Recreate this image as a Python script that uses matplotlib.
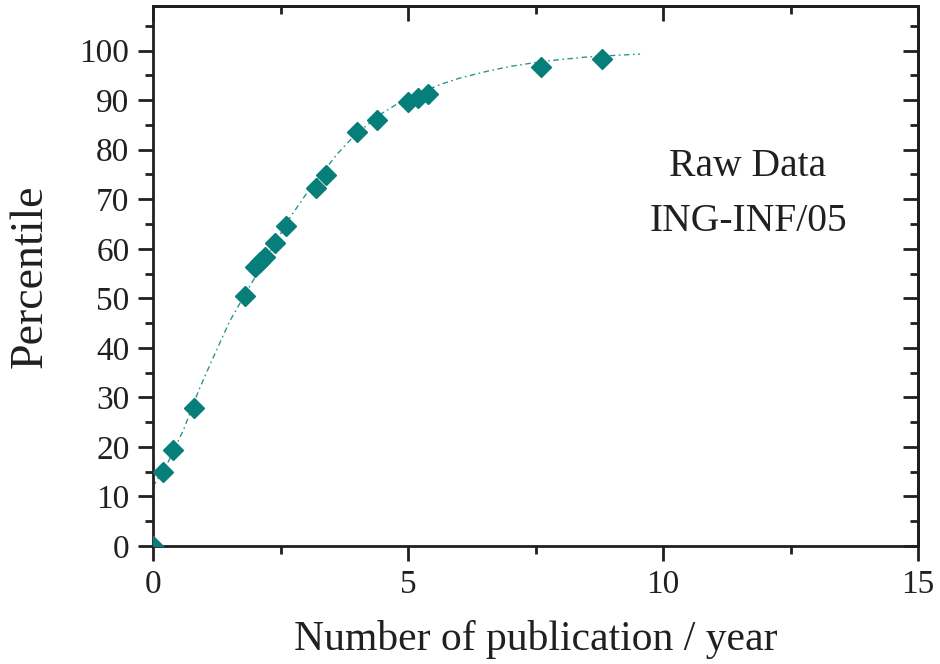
import matplotlib
matplotlib.use("Agg")
import matplotlib.pyplot as plt
from matplotlib.ticker import MultipleLocator

# Data
pub_per_year = [0.0, 0.2, 0.4, 0.8, 1.8, 2.0, 2.1, 2.2, 2.4, 2.6, 3.2, 3.4,
                4.0, 4.4, 5.0, 5.2, 5.4, 7.6, 8.8]
percentile = [0.0, 14.9, 19.3, 27.9, 50.4, 56.3, 57.3, 58.3, 61.1, 64.5, 72.2, 74.8,
              83.6, 86.0, 89.7, 90.4, 91.2, 96.6, 98.4]

# Fitted curve
fit_x = [0.0, 0.3, 0.6, 0.9, 1.2, 1.5, 1.8, 2.1, 2.4, 2.7, 3.0, 3.3, 3.6, 3.9,
         4.2, 4.5, 4.8, 5.1, 5.4, 5.7, 6.0, 6.5, 7.0, 7.5, 8.0, 8.5, 9.0, 9.55]
fit_y = [12.0, 17.0, 23.5, 31.5, 38.5, 45.3, 50.7, 56.0, 61.2, 66.5, 71.0, 75.0,
         79.0, 82.3, 85.0, 87.4, 89.3, 90.9, 92.2, 93.4, 94.4, 95.7, 96.8, 97.6,
         98.2, 98.7, 99.0, 99.3]

x_ticks = [0, 5, 10, 15]
y_ticks = [0, 10, 20, 30, 40, 50, 60, 70, 80, 90, 100]

plt.rcParams['font.family'] = ['Liberation Serif', 'DejaVu Serif']

TEAL = '#067f7a'
INK = '#231f20'

fig = plt.figure(figsize=(9.4, 6.64), dpi=100)
ax = fig.add_axes([153/940, 1-546/664, (918-153)/940, (546-6)/664])

ax.plot(fit_x, fit_y, color='#2a9590', lw=1.0, dashes=(4, 2.5, 1.2, 2.5), zorder=2)
ax.plot(pub_per_year, percentile, linestyle='none', marker='D', markersize=10.5,
        color=TEAL, markeredgecolor=TEAL, zorder=3)

ax.set_xlim(0, 15)
ax.set_ylim(0, 109)
ax.set_xticks(x_ticks)
ax.set_yticks(y_ticks)
ax.xaxis.set_minor_locator(MultipleLocator(2.5))
ax.yaxis.set_minor_locator(MultipleLocator(5))

for s in ax.spines.values():
    s.set_linewidth(2.0)
    s.set_color(INK)

ax.tick_params(which='major', direction='out', length=11, width=2.0, colors=INK,
               labelsize=24, labelcolor=INK, pad=6, top=False, right=False)
ax.tick_params(which='minor', direction='out', length=6, width=2.0, colors=INK,
               top=False, right=False)

# Mirrored inward ticks on the top and right spines
sec_x = ax.secondary_xaxis('top')
sec_x.set_xticks(x_ticks)
sec_x.xaxis.set_minor_locator(MultipleLocator(2.5))
sec_x.tick_params(which='major', direction='in', length=11, width=2.0, colors=INK, labeltop=False)
sec_x.tick_params(which='minor', direction='in', length=6, width=2.0, colors=INK)
sec_x.spines['top'].set_linewidth(2.0)

sec_y = ax.secondary_yaxis('right')
sec_y.set_yticks(y_ticks)
sec_y.yaxis.set_minor_locator(MultipleLocator(5))
sec_y.tick_params(which='major', direction='in', length=11, width=2.0, colors=INK, labelright=False)
sec_y.tick_params(which='minor', direction='in', length=6, width=2.0, colors=INK)
sec_y.spines['right'].set_linewidth(2.0)

ax.set_xlabel('Number of publication / year', fontsize=30, color=INK, labelpad=14)
ax.set_ylabel('Percentile', fontsize=33, color=INK, labelpad=20)

ax.text(748/940, 1-166/664, 'Raw Data', transform=fig.transFigure, fontsize=28.5,
        ha='center', va='center', color=INK)
ax.text(748/940, 1-222/664, 'ING-INF/05', transform=fig.transFigure, fontsize=28.5,
        ha='center', va='center', color=INK)

fig.savefig('out.png', dpi=100)
